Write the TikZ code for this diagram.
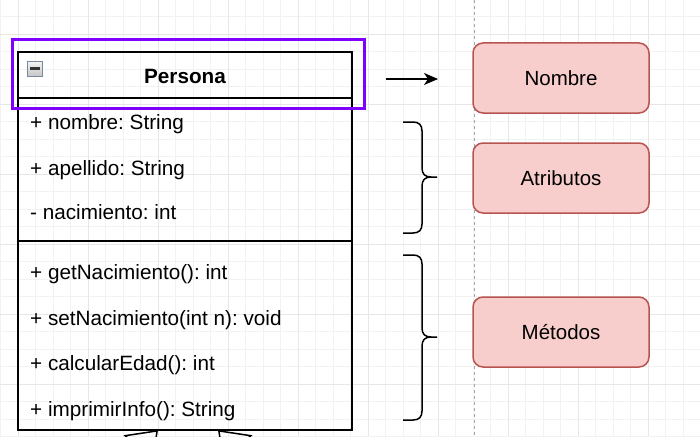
\documentclass[tikz,border=0pt]{standalone}
\usepackage{fontspec}
\setmainfont{Liberation Sans}
\frenchspacing
\usetikzlibrary{arrows.meta}
\definecolor{gridminor}{RGB}{242,242,242}
\definecolor{gridmajor}{RGB}{231,231,231}
\definecolor{selpurple}{RGB}{127,0,255}
\definecolor{notefill}{RGB}{248,206,204}
\definecolor{notedraw}{RGB}{184,84,80}
\definecolor{iconedge}{RGB}{120,138,160}
\begin{document}
\begin{tikzpicture}[x=1pt, y=-1pt,
	compart/.style={draw=black, line width=1.5pt, minimum width=334pt, inner sep=0pt},
	member/.style={anchor=base west, inner sep=0pt, font=\fontsize{20.7}{24}\selectfont},
	note/.style={draw=notedraw, fill=notefill, line width=1.5pt, rounded corners=10pt, minimum width=176pt, minimum height=70pt, font=\fontsize{20.5}{24}\selectfont},
	bracket/.style={line width=1.5pt},
	inherit/.style={line width=1.5pt, -{Triangle[open, length=28pt, width=41pt]}}]
	\useasboundingbox (0,0) rectangle (700,436);
	\clip (0,0) rectangle (700,436);

	\foreach \gx in {0,...,40} \draw[gridminor, line width=0.8pt] (0.7+17.5*\gx,0) -- (0.7+17.5*\gx,436);
	\foreach \gy in {1,...,25} \draw[gridminor, line width=0.8pt] (0,-0.8+17.5*\gy) -- (700,-0.8+17.5*\gy);
	\foreach \gx in {0,...,9} \draw[gridmajor, line width=0.8pt] (18.2+70*\gx,0) -- (18.2+70*\gx,436);
	\foreach \gy in {0,...,6} \draw[gridmajor, line width=0.8pt] (0,34.2+70*\gy) -- (700,34.2+70*\gy);
	\draw[gray!70, line width=0.8pt, dash pattern=on 3pt off 3pt] (474,0) -- (474,436);

	\node[compart, minimum height=46pt] at (185,75) (header) {};
	\node[compart, minimum height=143pt] at (185,169.5) (attrs) {};
	\node[compart, minimum height=189pt] at (185,335.5) (methods) {};
	\node[anchor=base, inner sep=0pt, font=\bfseries\fontsize{20.7}{24}\selectfont] at (185,83) (classname) {Persona};
	\node[draw=iconedge, line width=0.8pt, top color=gray!8, bottom color=gray!45, minimum size=15pt, inner sep=0pt] at (35,68.5) (collapse) {\color{black!80}\rule{10pt}{3pt}};
	\node[draw=selpurple, line width=3pt, minimum width=352pt, minimum height=68pt] at (188,74) (selection) {};

	\node[member] at (30,129) (nombre) {+ nombre: String};
	\node[member] at (30,175) (apellido) {+ apellido: String};
	\node[member] at (30,219) (nacimiento) {- nacimiento: int};
	\node[member] at (30,279) (getNac) {+ getNacimiento(): int};
	\node[member] at (30,325) (setNac) {+ setNacimiento(int n): void};
	\node[member] at (30,370) (calcEdad) {+ calcularEdad(): int};
	\node[member] at (30,416) (imprInfo) {+ imprimirInfo(): String};

	\node[note] at (561,78) (lblNombre) {Nombre};
	\node[note] at (561,178) (lblAtributos) {Atributos};
	\node[note] at (561,332) (lblMetodos) {Métodos};

	\coordinate (arrowTail) at (386,79);
	\coordinate (arrowHead) at (438,79);
	\draw[line width=1.5pt, -{Stealth[length=14pt, width=12pt, inset=4pt]}] (arrowTail) -- (arrowHead);

	\foreach \ya/\ym/\yb in {122/177/233, 255/337/420}
		\draw[bracket] (403,\ya) -- (413,\ya) .. controls (419,\ya) and (422,\ya+3) .. (422,\ya+9) -- (422,\ym-9) .. controls (422,\ym-3) and (425,\ym) .. (431,\ym) -- (437,\ym)
		(431,\ym) .. controls (425,\ym) and (422,\ym+3) .. (422,\ym+9) -- (422,\yb-9) .. controls (422,\yb-3) and (419,\yb) .. (413,\yb) -- (403,\yb);

	\coordinate (subLeft) at (98,490);
	\coordinate (subRight) at (278,490);
	\coordinate (inhLeft) at (158,430);
	\coordinate (inhRight) at (218,430);
	\draw[inherit] (subLeft) -- (inhLeft);
	\draw[inherit] (subRight) -- (inhRight);
\end{tikzpicture}
\end{document}
